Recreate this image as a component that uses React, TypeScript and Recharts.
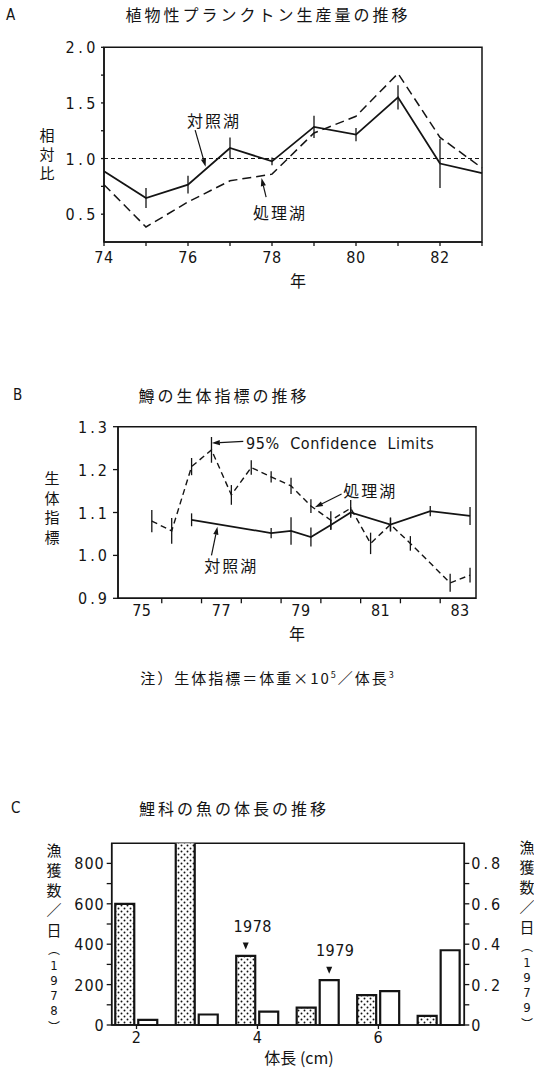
import React from "react";
import {
  ComposedChart,
  Line,
  Bar,
  XAxis,
  YAxis,
  ErrorBar,
  ReferenceLine,
  ReferenceDot,
  ReferenceArea,
  LabelList,
} from "recharts";

const JP = "'Noto Sans CJK JP', 'Noto Sans', sans-serif";
const NUM = "'Liberation Sans Narrow', 'DejaVu Sans Condensed', 'Liberation Sans', sans-serif";
const INK = "#141414";

// A: 植物性プランクトン生産量の推移
const yearsA = [74, 75, 76, 77, 78, 79, 80, 81, 82, 83];
const controlA = [0.885, 0.645, 0.765, 1.095, 0.975, 1.285, 1.215, 1.55, 0.955, 0.87];
const controlErrA = [0, 0.09, 0.08, 0.095, 0.035, 0.1, 0.06, 0.11, 0.22, 0];
const treatedA = [0.765, 0.385, 0.61, 0.8, 0.86, 1.23, 1.38, 1.765, 1.19, 0.915];
const yTicksA = [0.5, 0.75, 1, 1.25, 1.5, 1.75, 2];

// B: 鱒の生体指標の推移
const treatedYearsB = [75.25, 75.75, 76.25, 76.75, 77.25, 77.75, 78.25, 78.75, 79.25, 79.75, 80.25, 80.75, 81.25, 81.75, 82.75, 83.25];
const treatedB = [1.08, 1.057, 1.207, 1.246, 1.141, 1.205, 1.183, 1.162, 1.115, 1.082, 1.11, 1.028, 1.072, 1.028, 0.936, 0.954];
const treatedErrB = [0.026, 0.03, 0.02, 0.03, 0.023, 0.017, 0.013, 0.019, 0.016, 0.021, 0.019, 0.025, 0.016, 0.017, 0.021, 0.017];
const controlYearsB = [76.25, 78.25, 78.75, 79.25, 79.75, 80.25, 81.25, 82.25, 83.25];
const controlB = [1.083, 1.052, 1.057, 1.043, 1.071, 1.1, 1.072, 1.103, 1.092];
const controlErrB = [0.015, 0.012, 0.032, 0.022, 0.012, 0.012, 0.016, 0.012, 0.021];
const yTicksB = [0.9, 1.0, 1.1, 1.2, 1.3];
const xLabelsB = [75, 77, 79, 81, 83];
const xMinorB = [75.5, 76.5, 77.5, 78.5, 79.5, 80.5, 81.5, 82.5];

// C: 鯉科の魚の体長の推移
const sizeClasses = [2, 3, 4, 5, 6, 7];
const catch1978 = [600, 950, 342, 86, 148, 45];
const catch1979 = [0.025, 0.052, 0.066, 0.222, 0.168, 0.37];
const yTicksCL = [0, 100, 200, 300, 400, 500, 600, 700, 800];
const yTicksCR = [0, 0.1, 0.2, 0.3, 0.4, 0.5, 0.6, 0.7, 0.8];

const notesA = [
  { text: "対照湖", at: [76.62, 1.346], from: [76.17, 1.256], to: [76.42, 0.926] },
  { text: "処理湖", at: [78.19, 0.522], from: [77.86, 0.654], to: [77.75, 0.825] },
];
const notesB = [
  { text: "95%\u00a0\u00a0Confidence\u00a0\u00a0Limits", at: [77.62, 1.262], from: [77.55, 1.266], to: [76.76, 1.262], anchor: "start" },
  { text: "処理湖", at: [80.74, 1.152], from: [80.02, 1.143], to: [79.35, 1.112] },
  { text: "対照湖", at: [77.25, 0.977], from: [76.75, 1.0], to: [76.9, 1.067] },
];

const dataA = yearsA.map((year, i) => ({
  year,
  control: controlA[i],
  err: controlErrA[i],
  treated: treatedA[i],
}));
const treatedDataB = treatedYearsB.map((year, i) => ({ year, v: treatedB[i], err: treatedErrB[i] }));
const controlDataB = controlYearsB.map((year, i) => ({ year, v: controlB[i], err: controlErrB[i] }));
const dataC = sizeClasses.map((size, i) => ({ size, y1978: catch1978[i], y1979: catch1979[i] }));

const arrowShape = (p: any) => {
  const { x1, y1, x2, y2 } = p;
  const a = Math.atan2(y2 - y1, x2 - x1);
  const bx = x2 - 8 * Math.cos(a);
  const by = y2 - 8 * Math.sin(a);
  const px = -Math.sin(a) * 2.6;
  const py = Math.cos(a) * 2.6;
  return (
    <g>
      <line x1={x1} y1={y1} x2={bx} y2={by} stroke={INK} strokeWidth={1.2} />
      <polygon points={`${x2},${y2} ${bx + px},${by + py} ${bx - px},${by - py}`} fill={INK} />
    </g>
  );
};

function notes(list: any[]) {
  return list.flatMap((n, i) => [
    <ReferenceLine
      key={"l" + i}
      segment={[{ x: n.from[0], y: n.from[1] }, { x: n.to[0], y: n.to[1] }]}
      shape={arrowShape}
      ifOverflow="visible"
    />,
    <ReferenceDot
      key={"t" + i}
      x={n.at[0]}
      y={n.at[1]}
      r={0}
      ifOverflow="visible"
      shape={(p: any) => (
        <text
          x={p.cx}
          y={p.cy}
          textAnchor={n.anchor || "middle"}
          dominantBaseline="central"
          fontFamily={n.anchor ? NUM : JP}
          fontSize={16}
          letterSpacing={n.anchor ? 0.6 : 2}
          fill={INK}
        >
          {n.text}
        </text>
      )}
    />,
  ]);
}

const numText = (x: number, y: number, anchor: string, spacing: number, s: string) => (
  <text x={x} y={y} textAnchor={anchor} fontFamily={NUM} fontSize={16} letterSpacing={spacing} fill={INK}>
    {s}
  </text>
);

const isStep = (v: number, step: number) => Math.abs(v / step - Math.round(v / step)) < 1e-6;

const yTickA = (p: any) =>
  isStep(p.payload.value, 0.5) ? numText(p.x, p.y + 6, "end", 3.5, p.payload.value.toFixed(1)) : <g />;
const xTickA = (p: any) =>
  isStep(p.payload.value, 2) ? numText(p.x, p.y + 15, "middle", 0.5, String(p.payload.value)) : <g />;
const yTickB = (p: any) => numText(p.x, p.y + 6, "end", 3, p.payload.value.toFixed(1));
const xTickB = (p: any) => {
  const v = p.payload.value;
  if (Number.isInteger(v)) return numText(p.x, p.y + 11, "middle", 0.5, String(v));
  return <line x1={p.x} x2={p.x} y1={p.y - 7} y2={p.y - 2} stroke={INK} strokeWidth={1.3} />;
};
const yTickCL = (p: any) =>
  isStep(p.payload.value, 200) ? numText(p.x, p.y + 6, "end", 1, String(p.payload.value)) : <g />;
const yTickCR = (p: any) => {
  const v = p.payload.value;
  if (!isStep(v, 0.2)) return <g />;
  return numText(p.x, p.y + 6, "start", 3, v === 0 ? "0" : v.toFixed(1));
};
const xTickC = (p: any) => numText(p.x, p.y + 12, "middle", 0.5, String(p.payload.value));

const yearMark = (label: string, at: number, dx: number) => (p: any) => {
  if (p.index !== at) return null;
  const cx = p.x + p.width / 2;
  const top = p.y;
  return (
    <g>
      <text x={cx + dx} y={top - 24} textAnchor="middle" fontFamily={NUM} fontSize={16} letterSpacing={0.5} fill={INK}>
        {label}
      </text>
      <polygon points={`${cx - 3},${top - 13.5} ${cx + 3},${top - 13.5} ${cx},${top - 6.5}`} fill={INK} />
    </g>
  );
};

const abs = (left: number, top: number, extra: any = {}) => ({
  position: "absolute" as const,
  left,
  top,
  ...extra,
});

function Stack({ chars, x, top, lines }: { chars: string[]; x: number; top: number; lines: number[] }) {
  return (
    <div style={abs(x - 10, top, { width: 20, color: INK, textAlign: "center" })}>
      {chars.map((c, i) => {
        const digit = /[0-9]/.test(c);
        const paren = /[︵︶]/.test(c);
        return (
          <div
            key={i}
            style={{
              height: lines[i],
              lineHeight: lines[i] + "px",
              fontFamily: digit ? NUM : JP,
              fontSize: digit ? 13 : paren ? 12 : 15,
            }}
          >
            {c}
          </div>
        );
      })}
    </div>
  );
}

const title = { fontFamily: JP, fontSize: 16, letterSpacing: 3, color: INK, whiteSpace: "nowrap" as const };
const lineHeightsC = [20, 20, 20, 20, 20, 18, 15, 15, 15, 15, 18];

export default function App() {
  const axis = { stroke: INK, strokeWidth: 1.5 };
  const tl = { stroke: INK, strokeWidth: 1.3 };
  return (
    <div style={abs(0, 0, { width: 534, height: 1069, background: "#fff", overflow: "hidden" })}>
      {/* ---------- A ---------- */}
      <div style={abs(6, 6, { fontFamily: NUM, fontSize: 15, color: INK })}>A</div>
      <div style={abs(268, 14, { ...title, transform: "translate(-50%, -50%)" })}>植物性プランクトン生産量の推移</div>
      <Stack chars={["相", "対", "比"]} x={47} top={125} lines={[19, 19, 19]} />
      <div style={abs(298, 280, { fontFamily: JP, fontSize: 16, color: INK, transform: "translate(-50%, -50%)" })}>年</div>
      <div style={abs(0, 0)}>
        <ComposedChart width={534} height={300} data={dataA} margin={{ top: 47.3, right: 52, bottom: 28, left: 0 }}>
          <XAxis
            dataKey="year"
            type="number"
            domain={[74, 83]}
            ticks={yearsA}
            interval={0}
            height={30}
            tickSize={4}
            tickMargin={2}
            axisLine={axis}
            tickLine={tl}
            tick={xTickA}
          />
          <YAxis
            type="number"
            domain={[0.25, 2]}
            ticks={yTicksA}
            interval={0}
            width={104}
            tickSize={3}
            tickMargin={2}
            axisLine={axis}
            tickLine={tl}
            tick={yTickA}
          />
          <ReferenceArea x1={74} x2={83} y1={0.25} y2={2} fill="none" stroke={INK} strokeWidth={1.5} ifOverflow="visible" />
          <ReferenceLine y={1} stroke={INK} strokeWidth={1.1} strokeDasharray="4 3" />
          <Line dataKey="treated" stroke={INK} strokeWidth={1.5} strokeDasharray="9 5" dot={false} isAnimationActive={false} />
          <Line dataKey="control" stroke={INK} strokeWidth={1.8} dot={false} isAnimationActive={false}>
            <ErrorBar dataKey="err" width={0} stroke={INK} strokeWidth={1.3} direction="y" />
          </Line>
          {notes(notesA)}
        </ComposedChart>
      </div>

      {/* ---------- B ---------- */}
      <div style={abs(13, 386, { fontFamily: NUM, fontSize: 15, color: INK })}>B</div>
      <div style={abs(224, 395, { ...title, transform: "translate(-50%, -50%)" })}>鱒の生体指標の推移</div>
      <Stack chars={["生", "体", "指", "標"]} x={52} top={468} lines={[19.5, 19.5, 19.5, 19.5]} />
      <div style={abs(297, 633, { fontFamily: JP, fontSize: 16, color: INK, transform: "translate(-50%, -50%)" })}>年</div>
      <div style={abs(268, 677, { ...title, fontSize: 15, letterSpacing: 2, transform: "translate(-50%, -50%)" })}>
        注）生体指標＝体重×10<sup style={{ fontSize: 9 }}>5</sup>／体長<sup style={{ fontSize: 9 }}>3</sup>
      </div>
      <div style={abs(0, 400)}>
        <ComposedChart width={534} height={250} margin={{ top: 26.7, right: 58, bottom: 21.7, left: 0 }}>
          <XAxis
            dataKey="year"
            type="number"
            domain={[74.4, 83.4]}
            ticks={[...xLabelsB, ...xMinorB].sort((a, b) => a - b)}
            interval={0}
            height={30}
            tickSize={5}
            tickMargin={2}
            axisLine={axis}
            tickLine={false}
            tick={xTickB}
            allowDuplicatedCategory={false}
          />
          <YAxis
            type="number"
            domain={[0.9, 1.3]}
            ticks={yTicksB}
            interval={0}
            width={118}
            tickSize={5}
            tickMargin={3}
            axisLine={axis}
            tickLine={tl}
            tick={yTickB}
          />
          <ReferenceArea x1={74.4} x2={83.4} y1={0.9} y2={1.3} fill="none" stroke={INK} strokeWidth={1.5} ifOverflow="visible" />
          <Line
            data={treatedDataB}
            dataKey="v"
            stroke={INK}
            strokeWidth={1.4}
            strokeDasharray="6 4"
            dot={false}
            isAnimationActive={false}
          >
            <ErrorBar dataKey="err" width={0} stroke={INK} strokeWidth={1.3} direction="y" />
          </Line>
          <Line data={controlDataB} dataKey="v" stroke={INK} strokeWidth={1.7} dot={false} isAnimationActive={false}>
            <ErrorBar dataKey="err" width={0} stroke={INK} strokeWidth={1.3} direction="y" />
          </Line>
          {notes(notesB)}
        </ComposedChart>
      </div>

      {/* ---------- C ---------- */}
      <div style={abs(11, 799, { fontFamily: NUM, fontSize: 15, color: INK })}>C</div>
      <div style={abs(234, 808, { ...title, transform: "translate(-50%, -50%)" })}>鯉科の魚の体長の推移</div>
      <Stack chars={["漁", "獲", "数", "／", "日", "︵", "1", "9", "7", "8", "︶"]} x={54} top={840} lines={lineHeightsC} />
      <Stack chars={["漁", "獲", "数", "／", "日", "︵", "1", "9", "7", "9", "︶"]} x={527} top={837} lines={lineHeightsC} />
      <div style={abs(299, 1057, { fontFamily: JP, fontSize: 16, color: INK, whiteSpace: "nowrap", transform: "translate(-50%, -50%)" })}>
        体長 (cm)
      </div>
      <div style={abs(0, 820)}>
        <ComposedChart width={534} height={249} data={dataC} barGap={4} margin={{ top: 23.2, right: 0, bottom: 19, left: 0 }}>
          <defs>
            <pattern id="dots" width="6" height="6" patternUnits="userSpaceOnUse">
              <rect width="6" height="6" fill="#fff" />
              <circle cx="1.5" cy="1.5" r="0.95" fill={INK} />
              <circle cx="4.5" cy="4.5" r="0.95" fill={INK} />
            </pattern>
          </defs>
          <XAxis
            dataKey="size"
            type="number"
            domain={[1.59, 7.42]}
            ticks={[2, 4, 6]}
            interval={0}
            height={25}
            tickSize={4}
            tickMargin={2}
            axisLine={axis}
            tickLine={tl}
            tick={xTickC}
          />
          <YAxis
            yAxisId="l"
            type="number"
            domain={[0, 900]}
            allowDataOverflow
            ticks={yTicksCL}
            interval={0}
            width={111.7}
            tickSize={5}
            tickMargin={2}
            axisLine={axis}
            tickLine={tl}
            tick={yTickCL}
          />
          <YAxis
            yAxisId="r"
            orientation="right"
            type="number"
            domain={[0, 0.9]}
            ticks={yTicksCR}
            interval={0}
            width={69.7}
            tickSize={5}
            tickMargin={2}
            axisLine={axis}
            tickLine={tl}
            tick={yTickCR}
          />
          <ReferenceArea yAxisId="l" x1={1.59} x2={7.42} y1={0} y2={900} fill="none" stroke={INK} strokeWidth={1.5} ifOverflow="visible" />
          <Bar yAxisId="l" dataKey="y1978" barSize={19} fill="url(#dots)" stroke={INK} strokeWidth={2.2} isAnimationActive={false}>
            <LabelList content={yearMark("1978", sizeClasses.indexOf(4), 7)} />
          </Bar>
          <Bar yAxisId="r" dataKey="y1979" barSize={19} fill="#fff" stroke={INK} strokeWidth={2.2} isAnimationActive={false}>
            <LabelList content={yearMark("1979", sizeClasses.indexOf(5), 6)} />
          </Bar>
        </ComposedChart>
      </div>
    </div>
  );
}
